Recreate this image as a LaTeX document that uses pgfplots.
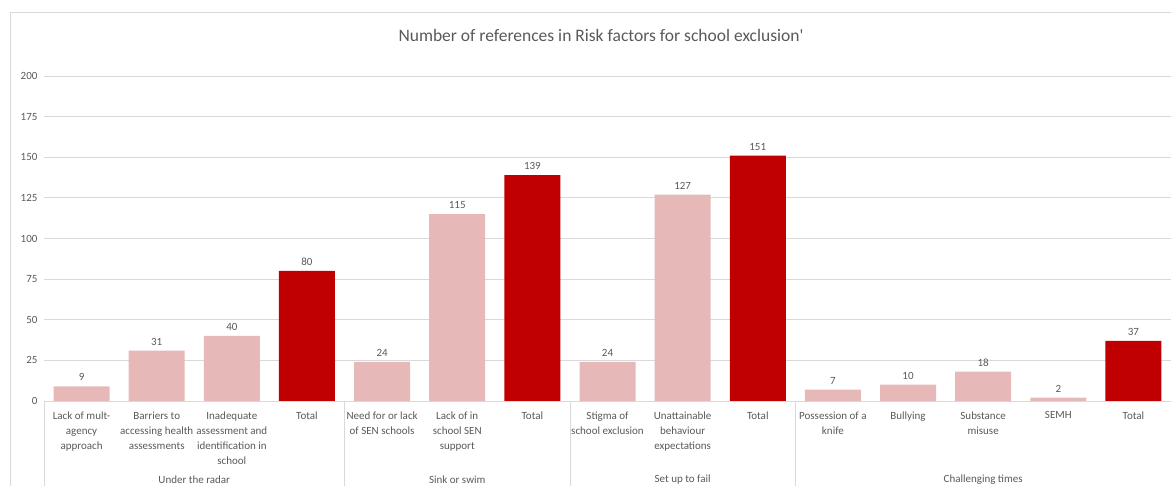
\documentclass[border=0pt]{standalone}
\usepackage{pgfplots}
\pgfplotsset{compat=1.18}
\usepackage{fontspec}
\setmainfont{Carlito}
\definecolor{lightbar}{RGB}{230,184,183}
\definecolor{darkbar}{RGB}{192,0,0}
\definecolor{txt}{RGB}{89,89,89}
\definecolor{gridc}{RGB}{217,217,217}
\newcommand{\lblfont}{\fontsize{11pt}{15pt}\selectfont}
\begin{document}
\begin{tikzpicture}[x=1pt,y=1pt]
\begin{axis}[
  at={(44pt,85pt)}, anchor=south west,
  scale only axis, width=1127pt, height=325pt,
  xmin=-0.5, xmax=14.5, ymin=0, ymax=200,
  ytick={0,25,...,200},
  ymajorgrids, grid style={gridc, line width=0.8pt},
  axis x line*=bottom, axis y line*=left,
  x axis line style={gridc, line width=0.8pt, -},
  y axis line style={draw=none},
  major tick length=0pt,
  xtick={0,...,14},
  xticklabels={
    {Lack of mult-\\agency\\approach},
    {Barriers to\\accessing health\\assessments},
    {Inadequate\\assessment and\\identification in\\school},
    {Total},
    {Need for or lack\\of SEN schools},
    {Lack of in\\school SEN\\support},
    {Total},
    {Stigma of\\school exclusion},
    {Unattainable\\behaviour\\expectations},
    {Total},
    {Possession of a\\knife},
    {Bullying},
    {Substance\\misuse},
    {SEMH},
    {Total}},
  xticklabel style={align=center, font=\lblfont, text=txt, anchor=north, yshift=-7pt},
  yticklabel style={font=\lblfont, text=txt, xshift=-3pt},
  /pgf/number format/assume math mode=true,
  ybar, bar width=56pt,
  nodes near coords,
  nodes near coords style={font=\lblfont, text=txt, yshift=2pt},
  clip=false,
]
% sub-themes
\addplot[fill=lightbar, draw=none, bar shift=0pt] coordinates {
  (0,9) (1,31) (2,40) (4,24) (5,115) (7,24) (8,127)
  (10,7) (11,10) (12,18) (13,2)};
% theme totals
\addplot[fill=darkbar, draw=none, bar shift=0pt] coordinates {
  (3,80) (6,139) (9,151) (14,37)};
% group separators in the category area
\pgfplotsinvokeforeach{-0.5,3.5,6.5,9.5,14.5}{
  \draw[gridc, line width=0.8pt] (axis cs:#1,0) -- ([yshift=-85pt]axis cs:#1,0);
}
\node[font=\lblfont, text=txt] at ([yshift=-79pt]axis cs:1.5,0) {Under the radar};
\node[font=\lblfont, text=txt] at ([yshift=-79pt]axis cs:5,0) {Sink or swim};
\node[font=\lblfont, text=txt] at ([yshift=-79pt]axis cs:8,0) {Set up to fail};
\node[font=\lblfont, text=txt] at ([yshift=-79pt]axis cs:12,0) {Challenging times};
\end{axis}
\node[font=\fontsize{17.5pt}{20pt}\selectfont, text=txt] at (601pt,451pt)
  {Number of references in Risk factors for school exclusion\textquotesingle};
\draw[gridc, line width=0.8pt] (10pt,0pt) -- (10pt,474pt) -- (1171pt,474pt);
\pgfresetboundingbox
\useasboundingbox (0,0) rectangle (1171pt,486pt);
\end{tikzpicture}
\end{document}
